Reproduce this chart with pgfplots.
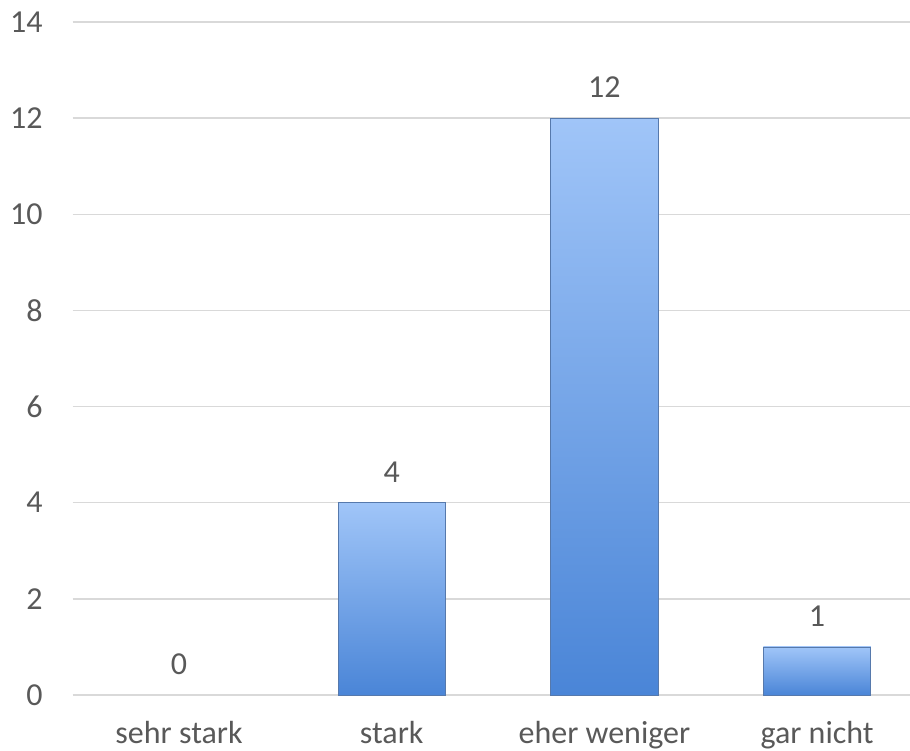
\documentclass[border=0pt]{standalone}
\usepackage{pgfplots}
\pgfplotsset{compat=1.18}
\usepackage{fontspec}
\setmainfont{Carlito}

\definecolor{txt}{HTML}{595959}
\definecolor{gridgray}{HTML}{D9D9D9}
\definecolor{barTop}{HTML}{A0C5F8}
\definecolor{barBot}{HTML}{4A85D7}
\definecolor{barEdge}{HTML}{5679AC}

\pgfplotsset{
  blue bar/.style={ybar, bar shift=0pt, bar width=0.505,
    top color=barTop, bottom color=barBot,
    draw=barEdge, line width=0.8pt},
}

\begin{document}
\begin{tikzpicture}[x=1pt,y=1pt]
\begin{axis}[
  at={(72.7pt,56pt)}, anchor=south west,
  scale only axis,
  width=837.3pt, height=673pt,
  xmin=-0.5, xmax=3.437,
  ymin=0, ymax=14,
  ytick={0,2,...,14},
  xtick={0,1,2,3},
  xticklabels={sehr stark, stark, eher weniger, gar nicht},
  axis line style={draw=none},
  major tick length=0pt,
  ymajorgrids,
  grid style={draw=gridgray, line width=1.3pt},
  tick label style={font=\fontsize{32}{38}\selectfont, text=txt},
  /pgf/number format/assume math mode=true,
  yticklabel style={anchor=east, inner sep=0pt, xshift=-30pt},
  xticklabel style={anchor=base, inner sep=0pt, yshift=-49pt},
  nodes near coords,
  nodes near coords style={anchor=south, inner sep=0pt, yshift=20pt,
    font=\fontsize{32}{38}\selectfont, text=txt},
  clip=false,
]
% one plot per category so each bar carries its own gradient
\addplot[ybar, bar shift=0pt, bar width=0.505, draw=none, fill=none]
  coordinates {(0,0)};
\addplot[blue bar] coordinates {(1,4)};
\addplot[blue bar] coordinates {(2,12)};
\addplot[blue bar] coordinates {(3,1)};
\end{axis}
\pgfresetboundingbox
\path[use as bounding box] (0,0) rectangle (910pt,751pt);
\end{tikzpicture}
\end{document}
